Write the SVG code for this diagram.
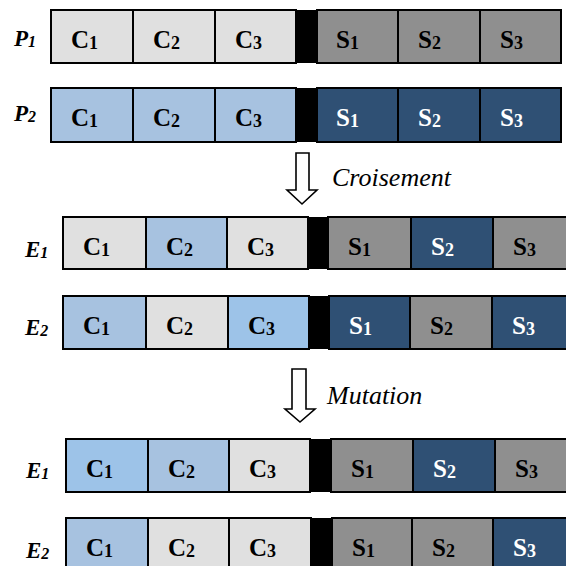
<svg xmlns="http://www.w3.org/2000/svg" width="566" height="566" viewBox="0 0 566 566" font-family="Liberation Serif, DejaVu Serif, serif">
<style>
.cell{stroke:#000;stroke-width:2}
.lg{fill:#e0e0e0}
.lb{fill:#a7c2e0}
.lb2{fill:#9dc3e8}
.gr{fill:#8f8f8f}
.db{fill:#2f5074}
.bar{fill:#000}
.t{font-weight:700;font-size:25px;fill:#000}
.w{fill:#fff}
.sub{font-size:18px}
.lab{font-weight:700;font-style:italic;font-size:23px;fill:#000}
.ls{font-size:16px}
.op{font-style:italic;font-size:26px;fill:#000}
.arrow{fill:#fff;stroke:#000;stroke-width:1.6;stroke-linejoin:miter}
</style>
<rect width="566" height="566" fill="#fff"/>

<g id="P1">
<text class="lab" font-family="Liberation Serif" x="14" y="46">P<tspan class="ls" dy="1">1</tspan></text>
<rect class="cell lg" x="51" y="10" width="82" height="53"/>
<rect class="cell lg" x="133" y="10" width="82" height="53"/>
<rect class="cell lg" x="215" y="10" width="81" height="53"/>
<rect class="bar" x="296" y="10" width="21" height="53"/>
<rect class="cell gr" x="317" y="10" width="81" height="53"/>
<rect class="cell gr" x="398" y="10" width="82" height="53"/>
<rect class="cell gr" x="480" y="10" width="81" height="53"/>
<text class="t" font-family="Liberation Serif" x="71" y="48">C<tspan class="sub" dy="1">1</tspan></text>
<text class="t" font-family="Liberation Serif" x="153" y="48">C<tspan class="sub" dy="1">2</tspan></text>
<text class="t" font-family="Liberation Serif" x="235" y="48">C<tspan class="sub" dy="1">3</tspan></text>
<text class="t" font-family="Liberation Serif" x="336" y="48">S<tspan class="sub" dy="1">1</tspan></text>
<text class="t" font-family="Liberation Serif" x="418" y="48">S<tspan class="sub" dy="1">2</tspan></text>
<text class="t" font-family="Liberation Serif" x="500" y="48">S<tspan class="sub" dy="1">3</tspan></text>
</g>

<g id="P2">
<text class="lab" font-family="Liberation Serif" x="14" y="121">P<tspan class="ls" dy="1">2</tspan></text>
<rect class="cell lb" x="51" y="88" width="82" height="54"/>
<rect class="cell lb" x="133" y="88" width="82" height="54"/>
<rect class="cell lb" x="215" y="88" width="81" height="54"/>
<rect class="bar" x="296" y="88" width="21" height="54"/>
<rect class="cell db" x="317" y="88" width="81" height="54"/>
<rect class="cell db" x="398" y="88" width="82" height="54"/>
<rect class="cell db" x="480" y="88" width="81" height="54"/>
<text class="t" font-family="Liberation Serif" x="71" y="126">C<tspan class="sub" dy="1">1</tspan></text>
<text class="t" font-family="Liberation Serif" x="153" y="126">C<tspan class="sub" dy="1">2</tspan></text>
<text class="t" font-family="Liberation Serif" x="235" y="126">C<tspan class="sub" dy="1">3</tspan></text>
<text class="t w" font-family="Liberation Serif" x="336" y="126">S<tspan class="sub" dy="1">1</tspan></text>
<text class="t w" font-family="Liberation Serif" x="418" y="126">S<tspan class="sub" dy="1">2</tspan></text>
<text class="t w" font-family="Liberation Serif" x="500" y="126">S<tspan class="sub" dy="1">3</tspan></text>
</g>

<g id="E1">
<text class="lab" font-family="Liberation Serif" x="25" y="257">E<tspan class="ls" dy="1">1</tspan></text>
<rect class="cell lg" x="63" y="217" width="83" height="52"/>
<rect class="cell lb" x="146" y="217" width="81" height="52"/>
<rect class="cell lg" x="227" y="217" width="81" height="52"/>
<rect class="bar" x="308" y="217" width="20" height="52"/>
<rect class="cell gr" x="328" y="217" width="83" height="52"/>
<rect class="cell db" x="411" y="217" width="82" height="52"/>
<rect class="cell gr" x="493" y="217" width="82" height="52"/>
<text class="t" font-family="Liberation Serif" x="83" y="255">C<tspan class="sub" dy="1">1</tspan></text>
<text class="t" font-family="Liberation Serif" x="166" y="255">C<tspan class="sub" dy="1">2</tspan></text>
<text class="t" font-family="Liberation Serif" x="247" y="255">C<tspan class="sub" dy="1">3</tspan></text>
<text class="t" font-family="Liberation Serif" x="348" y="255">S<tspan class="sub" dy="1">1</tspan></text>
<text class="t w" font-family="Liberation Serif" x="431" y="255">S<tspan class="sub" dy="1">2</tspan></text>
<text class="t" font-family="Liberation Serif" x="513" y="255">S<tspan class="sub" dy="1">3</tspan></text>
</g>

<g id="E2">
<text class="lab" font-family="Liberation Serif" x="25" y="335">E<tspan class="ls" dy="1">2</tspan></text>
<rect class="cell lb" x="63" y="296" width="83" height="53"/>
<rect class="cell lg" x="146" y="296" width="82" height="53"/>
<rect class="cell lb2" x="228" y="296" width="81" height="53"/>
<rect class="bar" x="309" y="296" width="20" height="53"/>
<rect class="cell db" x="329" y="296" width="81" height="53"/>
<rect class="cell gr" x="410" y="296" width="82" height="53"/>
<rect class="cell db" x="492" y="296" width="82" height="53"/>
<text class="t" font-family="Liberation Serif" x="83" y="334">C<tspan class="sub" dy="1">1</tspan></text>
<text class="t" font-family="Liberation Serif" x="166" y="334">C<tspan class="sub" dy="1">2</tspan></text>
<text class="t" font-family="Liberation Serif" x="248" y="334">C<tspan class="sub" dy="1">3</tspan></text>
<text class="t w" font-family="Liberation Serif" x="349" y="334">S<tspan class="sub" dy="1">1</tspan></text>
<text class="t" font-family="Liberation Serif" x="430" y="334">S<tspan class="sub" dy="1">2</tspan></text>
<text class="t w" font-family="Liberation Serif" x="512" y="334">S<tspan class="sub" dy="1">3</tspan></text>
</g>

<g id="E1m">
<text class="lab" font-family="Liberation Serif" x="26" y="478">E<tspan class="ls" dy="1">1</tspan></text>
<rect class="cell lb2" x="66" y="439" width="82" height="53"/>
<rect class="cell lb" x="148" y="439" width="81" height="53"/>
<rect class="cell lg" x="229" y="439" width="81" height="53"/>
<rect class="bar" x="310" y="439" width="21" height="53"/>
<rect class="cell gr" x="331" y="439" width="82" height="53"/>
<rect class="cell db" x="413" y="439" width="82" height="53"/>
<rect class="cell gr" x="495" y="439" width="82" height="53"/>
<text class="t" font-family="Liberation Serif" x="86" y="477">C<tspan class="sub" dy="1">1</tspan></text>
<text class="t" font-family="Liberation Serif" x="168" y="477">C<tspan class="sub" dy="1">2</tspan></text>
<text class="t" font-family="Liberation Serif" x="249" y="477">C<tspan class="sub" dy="1">3</tspan></text>
<text class="t" font-family="Liberation Serif" x="351" y="477">S<tspan class="sub" dy="1">1</tspan></text>
<text class="t w" font-family="Liberation Serif" x="433" y="477">S<tspan class="sub" dy="1">2</tspan></text>
<text class="t" font-family="Liberation Serif" x="515" y="477">S<tspan class="sub" dy="1">3</tspan></text>
</g>

<g id="E2m">
<text class="lab" font-family="Liberation Serif" x="26" y="558">E<tspan class="ls" dy="1">2</tspan></text>
<rect class="cell lb" x="66" y="518" width="82" height="53"/>
<rect class="cell lg" x="148" y="518" width="81" height="53"/>
<rect class="cell lg" x="229" y="518" width="82" height="53"/>
<rect class="bar" x="311" y="518" width="21" height="53"/>
<rect class="cell gr" x="332" y="518" width="80" height="53"/>
<rect class="cell gr" x="412" y="518" width="81" height="53"/>
<rect class="cell db" x="493" y="518" width="82" height="53"/>
<text class="t" font-family="Liberation Serif" x="86" y="556">C<tspan class="sub" dy="1">1</tspan></text>
<text class="t" font-family="Liberation Serif" x="168" y="556">C<tspan class="sub" dy="1">2</tspan></text>
<text class="t" font-family="Liberation Serif" x="249" y="556">C<tspan class="sub" dy="1">3</tspan></text>
<text class="t" font-family="Liberation Serif" x="352" y="556">S<tspan class="sub" dy="1">1</tspan></text>
<text class="t" font-family="Liberation Serif" x="432" y="556">S<tspan class="sub" dy="1">2</tspan></text>
<text class="t w" font-family="Liberation Serif" x="513" y="556">S<tspan class="sub" dy="1">3</tspan></text>
</g>

<g id="connectors">
<polygon class="arrow" points="296,153 309,153 309,190 317,190 302,204 287,190 296,190"/>
<text class="op" font-family="Liberation Serif" x="332" y="186">Croisement</text>
<polygon class="arrow" points="292,369 306,369 306,409 315,409 300,422 285,409 292,409"/>
<text class="op" font-family="Liberation Serif" x="327" y="404">Mutation</text>
</g>
</svg>
